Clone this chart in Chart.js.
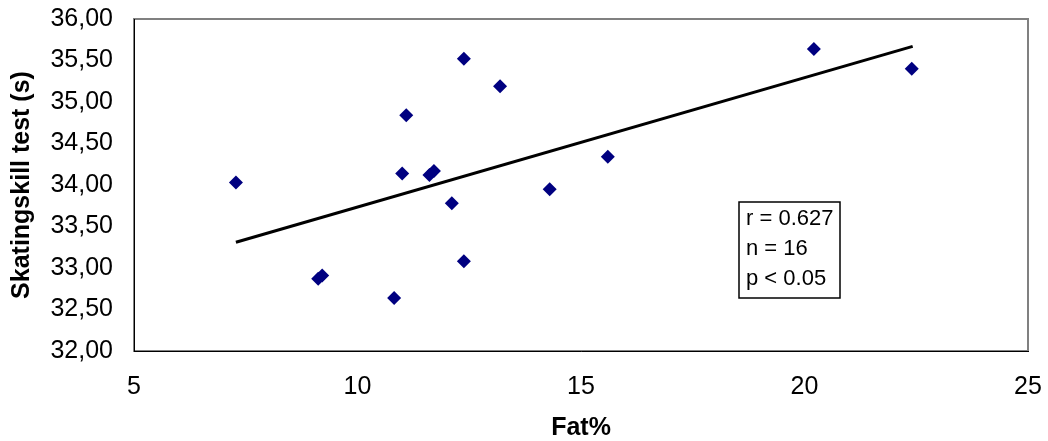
<!DOCTYPE html>
<html>
<head>
<meta charset="utf-8">
<script src="https://cdn.jsdelivr.net/npm/chart.js@4/dist/chart.umd.min.js"></script>
<style>
	html, body { margin: 0; padding: 0; background: #fff; }
	#wrap { width: 1048px; height: 441px; }
</style>
</head>
<body>
<div id="wrap"><canvas id="chart"></canvas></div>
<script>
// Fat% (x) and skating skill test time in seconds (y), one entry per subject
const fatPct = [7.28, 9.12, 9.21, 10.82, 11.00, 11.09, 11.61, 11.71, 12.11, 12.38, 12.38, 13.19, 14.30, 15.60, 20.21, 22.40];
const skateTime = [34.03, 32.87, 32.91, 32.64, 34.14, 34.84, 34.12, 34.17, 33.78, 35.52, 33.08, 35.19, 33.95, 34.34, 35.64, 35.40];

// Linear trend line end points
const trendX = [7.28, 22.42];
const trendY = [33.31, 35.67];

// Stats shown in the box
const statLines = ['r = 0.627', 'n = 16', 'p < 0.05'];

const points = fatPct.map((x, i) => ({ x: x, y: skateTime[i] }));
const trend = trendX.map((x, i) => ({ x: x, y: trendY[i] }));

// Gray frame round the plot area, drawn before the axes so left/bottom stay black
const framePlugin = {
	id: 'frame',
	beforeDraw(chart) {
		const a = chart.chartArea;
		const ctx = chart.ctx;
		ctx.save();
		ctx.strokeStyle = '#808080';
		ctx.lineWidth = 2;
		ctx.strokeRect(Math.round(a.left), Math.round(a.top), Math.round(a.right - a.left), Math.round(a.bottom - a.top));
		ctx.restore();
	}
};

// Text box with the stats, anchored in data coordinates
const statBoxPlugin = {
	id: 'statBox',
	afterDatasetsDraw(chart, args, opts) {
		const ctx = chart.ctx;
		const left = Math.round(chart.scales.x.getPixelForValue(opts.x));
		const top = Math.round(chart.scales.y.getPixelForValue(opts.y));
		ctx.save();
		ctx.fillStyle = '#fff';
		ctx.fillRect(left, top, opts.width, opts.height);
		ctx.strokeStyle = '#000';
		ctx.lineWidth = 1.5;
		ctx.strokeRect(left, top, opts.width, opts.height);
		ctx.fillStyle = '#000';
		ctx.font = '22px "Liberation Sans", Arial, sans-serif';
		ctx.textBaseline = 'middle';
		statLines.forEach((line, i) => {
			ctx.fillText(line, left + 7, top + 17 + i * 30);
		});
		ctx.restore();
	}
};

const tickFont = { family: '"Liberation Sans", Arial, sans-serif', size: 25 };
const titleFont = { family: '"Liberation Sans", Arial, sans-serif', size: 25, weight: 'bold', lineHeight: 1 };

new Chart(document.getElementById('chart'), {
	type: 'scatter',
	data: {
		datasets: [
			{
				label: 'Skatingskill',
				data: points,
				pointStyle: 'rectRot',
				pointRadius: 7,
				pointHoverRadius: 7,
				backgroundColor: '#000080',
				borderColor: '#000080',
				borderWidth: 0
			},
			{
				label: 'Trend',
				type: 'line',
				data: trend,
				borderColor: '#000',
				borderWidth: 3,
				pointRadius: 0,
				fill: false
			}
		]
	},
	options: {
		responsive: true,
		maintainAspectRatio: false,
		animation: false,
		layout: { padding: { top: 19, right: 20, left: 0, bottom: 0 } },
		plugins: {
			legend: { display: false },
			tooltip: { enabled: false },
			statBox: { x: 18.53, y: 33.79, width: 101, height: 96 }
		},
		scales: {
			x: {
				type: 'linear',
				min: 5,
				max: 25,
				ticks: { stepSize: 5, color: '#000', font: tickFont, padding: 13, maxRotation: 0 },
				grid: { display: false, drawTicks: true, tickLength: 8, tickColor: '#000' },
				border: { color: '#000', width: 1 },
				title: { display: true, text: 'Fat%', color: '#000', font: titleFont, padding: { top: 4, bottom: 0 } },
				afterFit(scale) {
					scale.height = 90;
					scale.paddingLeft = 0;
					scale.paddingRight = 0;
				}
			},
			y: {
				min: 32,
				max: 36,
				ticks: {
					stepSize: 0.5,
					color: '#000',
					font: tickFont,
					padding: 13,
					callback: (v) => v.toFixed(2).replace('.', ',')
				},
				grid: { display: false, drawTicks: true, tickLength: 8, tickColor: '#000' },
				border: { color: '#000', width: 1 },
				title: { display: true, text: 'Skatingskill test (s)', color: '#000', font: titleFont, padding: { top: 10, bottom: 0 } },
				afterFit(scale) {
					scale.width = 134;
					scale.paddingTop = 0;
					scale.paddingBottom = 0;
				}
			}
		}
	},
	plugins: [framePlugin, statBoxPlugin]
});
</script>
</body>
</html>
